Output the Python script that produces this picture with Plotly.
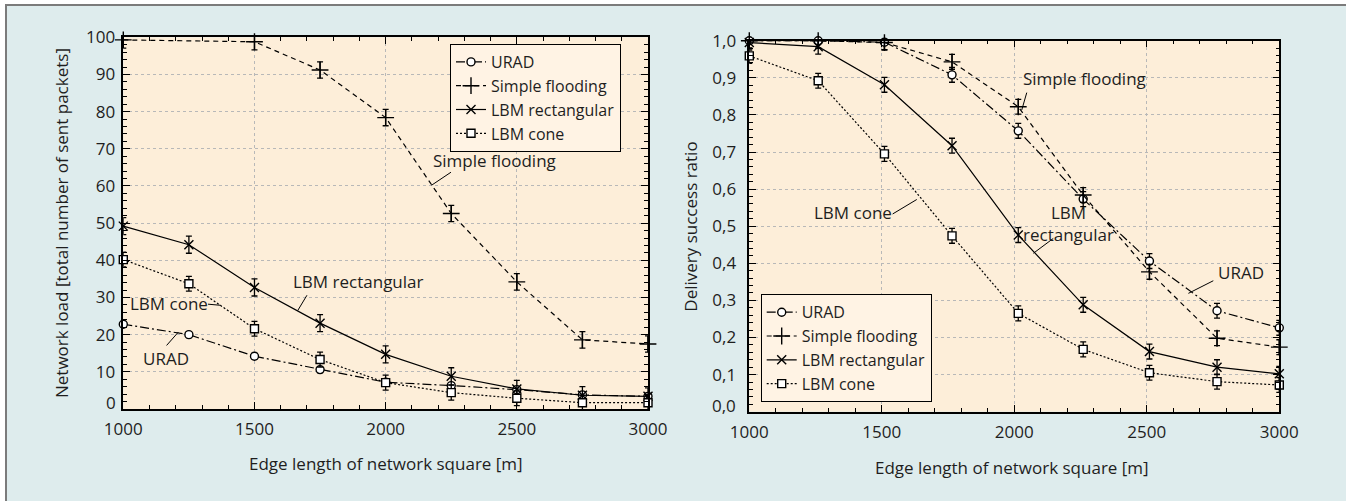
import plotly.graph_objects as go

# ---------------- data ----------------
x_load = [1000, 1250, 1500, 1750, 2000, 2250, 2500, 2750, 3000]
x_load_flood = [1000, 1500, 1750, 2000, 2250, 2500, 2750, 3000]
load_urad = [22.8, 20.0, 14.2, 10.6, 7.2, 6.3, 5.2, 3.8, 3.4]
load_flood = [99.3, 98.8, 91.2, 78.4, 52.6, 34.2, 18.6, 17.5]
load_rect = [49.2, 44.2, 32.7, 23.1, 14.7, 8.8, 5.4, 3.7, 3.4]
load_cone = [40.2, 33.7, 21.6, 13.3, 7.1, 4.4, 2.9, 1.7, 1.7]
err_load_urad = 0.8
err_load_flood = 2.2
err_load_rect = 2.3
err_load_cone = 2.0

x_ratio = [1000, 1260, 1510, 1765, 2015, 2260, 2510, 2765, 3000]
ratio_urad = [1.0, 1.0, 0.996, 0.908, 0.757, 0.573, 0.406, 0.272, 0.226]
ratio_flood = [1.0, 1.0, 0.995, 0.943, 0.822, 0.584, 0.377, 0.198, 0.174]
ratio_rect = [0.995, 0.984, 0.881, 0.717, 0.476, 0.288, 0.162, 0.120, 0.102]
ratio_cone = [0.959, 0.892, 0.695, 0.474, 0.265, 0.168, 0.105, 0.081, 0.072]
err_ratio = 0.02

# y tick values (the 0 label is placed separately, lifted as in the original)
yticks_load = [10, 20, 30, 40, 50, 60, 70, 80, 90, 100]
yticks_ratio = [0.1, 0.2, 0.3, 0.4, 0.5, 0.6, 0.7, 0.8, 0.9, 1.0]
yticktext_ratio = ["0,1", "0,2", "0,3", "0,4", "0,5", "0,6", "0,7", "0,8", "0,9", "1,0"]
zero_label_load = "0"
zero_label_ratio = "0,0"

series_names = ["URAD", "Simple flooding", "LBM rectangular", "LBM cone"]
x_title = "Edge length of network square [m]"
y_title_load = "Network load [total number of sent packets]"
y_title_ratio = "Delivery success ratio"

# ---------------- styles ----------------
W, H = 1346, 501
FONT = "Open Sans"
TXT = "#1e1e1e"
PLOT_BG = "#fdeed9"
PAPER_BG = "#deeced"
LEG_BG = "#fff3e4"
FS = 17      # annotation / title text
FS_TICK = 17
FS_LEG = 16

styles = {
    "URAD": dict(dash="9px,3px,2px,3px", symbol="circle", size=8, fill="white"),
    "Simple flooding": dict(dash="5px,4px", symbol="cross-thin", size=12, fill="black"),
    "LBM rectangular": dict(dash="solid", symbol="x-thin", size=9, fill="black"),
    "LBM cone": dict(dash="2px,2px", symbol="square", size=8, fill="white"),
}


def px(x):
    return x / W


def py(y):
    return 1 - y / H


fig = go.Figure()


def add_series(name, xs, ys, err, xa, ya, legend):
    st = styles[name]
    fig.add_trace(go.Scatter(
        x=xs, y=ys, name=name, mode="lines+markers",
        xaxis=xa, yaxis=ya, legend=legend,
        line=dict(color="black", width=1.2, dash=st["dash"]),
        marker=dict(symbol=st["symbol"], size=st["size"], color=st["fill"],
                    line=dict(color="black", width=1.4)),
        error_y=dict(type="constant", value=err, color="black", thickness=1.3, width=3),
        cliponaxis=False,
    ))


add_series("URAD", x_load, load_urad, err_load_urad, "x", "y", "legend")
add_series("Simple flooding", x_load_flood, load_flood, err_load_flood, "x", "y", "legend")
add_series("LBM rectangular", x_load, load_rect, err_load_rect, "x", "y", "legend")
add_series("LBM cone", x_load, load_cone, err_load_cone, "x", "y", "legend")

add_series("URAD", x_ratio, ratio_urad, err_ratio, "x2", "y2", "legend2")
add_series("Simple flooding", x_ratio, ratio_flood, err_ratio, "x2", "y2", "legend2")
add_series("LBM rectangular", x_ratio, ratio_rect, err_ratio, "x2", "y2", "legend2")
add_series("LBM cone", x_ratio, ratio_cone, err_ratio, "x2", "y2", "legend2")

axis_common = dict(
    showline=True, linecolor="black", linewidth=1.5, mirror="allticks",
    ticks="inside", ticklen=7, tickwidth=1.2, tickcolor="black",
    showgrid=True, gridcolor="#b8b8b8", griddash="dot", gridwidth=1,
    zeroline=False, automargin=False,
    tickfont=dict(family=FONT, size=FS_TICK, color=TXT),
)

x_common = dict(axis_common, range=[1000, 3000], tick0=1000, dtick=500, tickformat="d",
                ticklabelstandoff=4,
                minor=dict(ticks="inside", ticklen=4, tickwidth=1, tickcolor="black",
                           tickmode="linear", dtick=100, tick0=1000, showgrid=False))

fig.update_layout(
    width=W, height=H,
    margin=dict(l=0, r=0, t=0, b=0),
    paper_bgcolor=PAPER_BG, plot_bgcolor=PLOT_BG,
    font=dict(family=FONT, size=FS, color=TXT),
    xaxis=dict(x_common, domain=[px(123.3), px(648)], anchor="y"),
    yaxis=dict(axis_common, domain=[py(409), py(37.3)], anchor="x", range=[0, 100],
               tickmode="array", tickvals=yticks_load, ticklabelstandoff=3,
               minor=dict(ticks="inside", ticklen=4, tickwidth=1, tickcolor="black",
                          tickmode="linear", dtick=2, tick0=0, showgrid=False)),
    xaxis2=dict(x_common, domain=[px(749.3), px(1279.3)], anchor="y2"),
    yaxis2=dict(axis_common, domain=[py(411.7), py(40.7)], anchor="x2", range=[0, 1],
                tickmode="array", tickvals=yticks_ratio, ticktext=yticktext_ratio,
                ticklabelstandoff=8,
                minor=dict(ticks="inside", ticklen=4, tickwidth=1, tickcolor="black",
                           tickmode="linear", dtick=0.02, tick0=0, showgrid=False)),
    legend=dict(x=px(450), y=py(44), xanchor="left", yanchor="top",
                bgcolor=LEG_BG, bordercolor="black", borderwidth=1,
                font=dict(family=FONT, size=FS_LEG, color=TXT), itemwidth=30,
                tracegroupgap=0),
    legend2=dict(x=px(760.7), y=py(402.3), xanchor="left", yanchor="bottom",
                 bgcolor=LEG_BG, bordercolor="black", borderwidth=1,
                 font=dict(family=FONT, size=FS_LEG, color=TXT), itemwidth=30,
                 tracegroupgap=0),
)

# frame: white strips at top/left with gray border line
shapes = [
    dict(type="rect", xref="paper", yref="paper", x0=0, x1=1, y0=py(4), y1=1,
         fillcolor="white", line=dict(width=0)),
    dict(type="rect", xref="paper", yref="paper", x0=0, x1=px(5), y0=0, y1=1,
         fillcolor="white", line=dict(width=0)),
    dict(type="line", xref="paper", yref="paper", x0=px(5), x1=1, y0=py(5), y1=py(5),
         line=dict(color="#7b7b7b", width=2)),
    dict(type="line", xref="paper", yref="paper", x0=px(6), x1=px(6), y0=0, y1=py(4),
         line=dict(color="#7b7b7b", width=2)),
]

# leader lines (data coordinates)
leaders = [
    ("x", "y", 2249, 63.7, 2175, 60.2),
    ("x", "y", 1700, 30.6, 1665, 26.5),
    ("x", "y", 1323, 28.2, 1371, 27.9),
    ("x", "y", 1165, 17.1, 1210, 20.7),
    ("x2", "y2", 2047, 0.860, 2028, 0.813),
    ("x2", "y2", 2147, 0.467, 2072, 0.427),
    ("x2", "y2", 2751, 0.353, 2657, 0.319),
    ("x2", "y2", 1541, 0.533, 1632, 0.572),
]
for xr, yr, x0, y0, x1, y1 in leaders:
    shapes.append(dict(type="line", xref=xr, yref=yr, x0=x0, y0=y0, x1=x1, y1=y1,
                       line=dict(color="black", width=1)))
fig.update_layout(shapes=shapes)

labels = [
    ("x", "y", 2415, 66.9, "Simple flooding"),
    ("x", "y", 1898, 34.2, "LBM rectangular"),
    ("x", "y", 1176, 28.3, "LBM cone"),
    ("x", "y", 1161, 13.5, "URAD"),
    ("x2", "y2", 2264, 0.899, "Simple flooding"),
    ("x2", "y2", 2205, 0.506, "LBM<br>rectangular"),
    ("x2", "y2", 2854, 0.375, "URAD"),
    ("x2", "y2", 1392, 0.536, "LBM cone"),
]
annotations = []
for xr, yr, x, y, t in labels:
    annotations.append(dict(xref=xr, yref=yr, x=x, y=y, text=t, showarrow=False,
                            font=dict(family=FONT, size=FS, color=TXT),
                            xanchor="center", yanchor="middle"))

# zero tick labels, lifted slightly above the corner as in the original
annotations += [
    dict(xref="paper", yref="paper", x=px(118), y=py(402), text=zero_label_load,
         showarrow=False, font=dict(family=FONT, size=FS_TICK, color=TXT),
         xanchor="right", yanchor="middle"),
    dict(xref="paper", yref="paper", x=px(737.5), y=py(405.5), text=zero_label_ratio,
         showarrow=False, font=dict(family=FONT, size=FS_TICK, color=TXT),
         xanchor="right", yanchor="middle"),
]

# axis titles
annotations += [
    dict(xref="paper", yref="paper", x=px(385.8), y=py(463.3), text=x_title, showarrow=False,
         font=dict(family=FONT, size=FS, color=TXT), xanchor="center", yanchor="middle"),
    dict(xref="paper", yref="paper", x=px(1012), y=py(467.3), text=x_title, showarrow=False,
         font=dict(family=FONT, size=FS, color=TXT), xanchor="center", yanchor="middle"),
    dict(xref="paper", yref="paper", x=px(61), y=py(223), text=y_title_load, showarrow=False,
         textangle=-90, font=dict(family=FONT, size=FS, color=TXT),
         xanchor="center", yanchor="middle"),
    dict(xref="paper", yref="paper", x=px(691), y=py(226.7), text=y_title_ratio, showarrow=False,
         textangle=-90, font=dict(family=FONT, size=FS, color=TXT),
         xanchor="center", yanchor="middle"),
]
fig.update_layout(annotations=annotations)

fig.write_html("out.html", config={"displayModeBar": False},
               post_script="document.body.style.margin='0';")
